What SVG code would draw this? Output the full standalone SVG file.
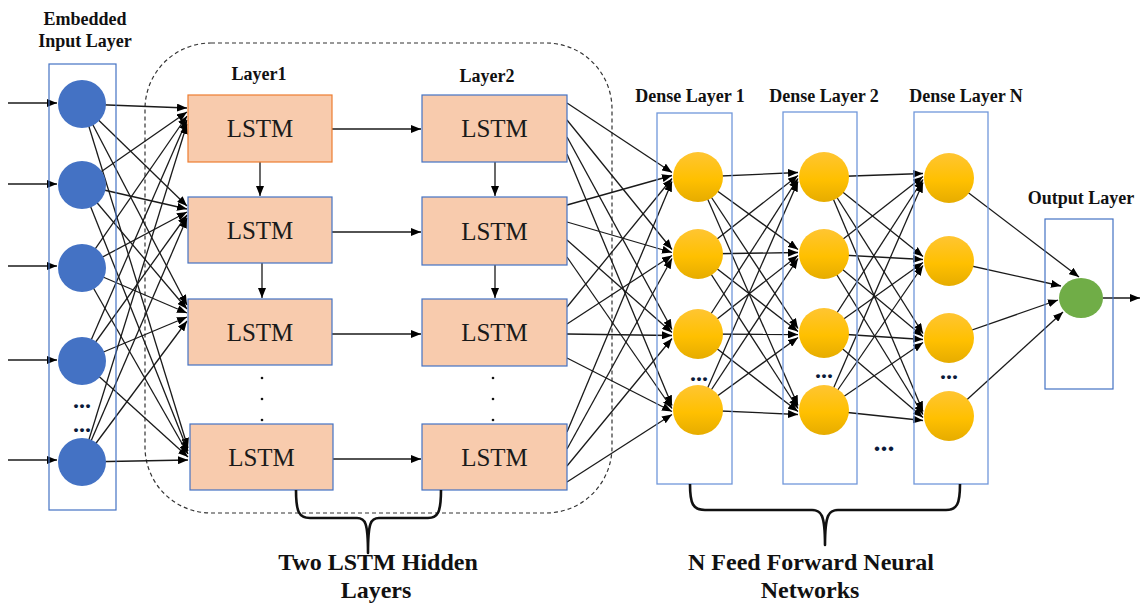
<svg xmlns="http://www.w3.org/2000/svg" width="1141" height="603" viewBox="0 0 1141 603">
<style>
.lbl{font-family:"Liberation Serif","Times New Roman",serif;font-weight:bold;font-size:18px;fill:#111;text-anchor:middle}
.big{font-family:"Liberation Serif","Times New Roman",serif;font-weight:bold;font-size:24px;fill:#111;text-anchor:middle}
.lstmt{font-family:"Liberation Serif","Times New Roman",serif;font-size:25px;fill:#1a1a1a;text-anchor:middle}
.dots{font-family:"Liberation Serif","Times New Roman",serif;font-weight:bold;font-size:24px;fill:#0b1a3a;text-anchor:middle}
.box{fill:#F8CBAD;stroke:#4472C4;stroke-width:1.2}
.lay{fill:none;stroke:#4472C4;stroke-width:1.2}
.dlay{fill:none;stroke:#7097DA;stroke-width:1.3}
.inp{fill:#4472C4}
.yel{fill:url(#yg)}
.c line{stroke:#1a1a1a;stroke-width:1.3;marker-end:url(#ah)}
.brace{fill:none;stroke:#111;stroke-width:2.6;stroke-linejoin:round}
</style>
<defs>
<marker id="ah" markerUnits="userSpaceOnUse" viewBox="0 0 10 8" markerWidth="10" markerHeight="8" refX="10" refY="4" orient="auto"><path d="M0,0 L10,4 L0,8 z" fill="#000"/></marker>
<linearGradient id="yg" x1="0" y1="0" x2="0" y2="1"><stop offset="0" stop-color="#FFC532"/><stop offset="0.55" stop-color="#FFC000"/><stop offset="1" stop-color="#E6AC00"/></linearGradient>
</defs>
<rect width="1141" height="603" fill="#fff"/>
<rect x="145" y="43" width="467" height="470" rx="66" ry="66" fill="none" stroke="#333" stroke-width="1.2" stroke-dasharray="4,3"/>
<g id="connectors" class="c">
<line x1="8" y1="103" x2="57" y2="103"/>
<line x1="8" y1="184" x2="57" y2="184"/>
<line x1="8" y1="266" x2="57" y2="266"/>
<line x1="8" y1="360" x2="57" y2="360"/>
<line x1="8" y1="460" x2="57" y2="460"/>
<line x1="82" y1="104" x2="187" y2="108"/>
<line x1="82" y1="185" x2="187" y2="112"/>
<line x1="82" y1="268" x2="187" y2="116"/>
<line x1="82" y1="361" x2="187" y2="120"/>
<line x1="82" y1="462" x2="187" y2="124"/>
<line x1="82" y1="104" x2="187" y2="206"/>
<line x1="82" y1="185" x2="187" y2="209"/>
<line x1="82" y1="268" x2="187" y2="212"/>
<line x1="82" y1="361" x2="187" y2="215"/>
<line x1="82" y1="462" x2="187" y2="218"/>
<line x1="82" y1="104" x2="187" y2="305"/>
<line x1="82" y1="185" x2="187" y2="309"/>
<line x1="82" y1="268" x2="187" y2="313"/>
<line x1="82" y1="361" x2="187" y2="317"/>
<line x1="82" y1="462" x2="187" y2="321"/>
<line x1="82" y1="104" x2="188" y2="448"/>
<line x1="82" y1="185" x2="188" y2="451"/>
<line x1="82" y1="268" x2="188" y2="454"/>
<line x1="82" y1="361" x2="188" y2="457"/>
<line x1="82" y1="462" x2="188" y2="460"/>
<line x1="332" y1="129" x2="421" y2="129"/>
<line x1="332" y1="232" x2="421" y2="232"/>
<line x1="332" y1="334" x2="421" y2="334"/>
<line x1="333" y1="459" x2="421" y2="459"/>
<line x1="260" y1="162" x2="260" y2="196"/>
<line x1="262" y1="263" x2="262" y2="298"/>
<line x1="495" y1="162" x2="495" y2="196"/>
<line x1="495" y1="265" x2="495" y2="298"/>
<line x1="567" y1="103" x2="672" y2="172.5"/>
<line x1="567" y1="120" x2="672" y2="249.5"/>
<line x1="567" y1="137" x2="672" y2="329.5"/>
<line x1="567" y1="154" x2="672" y2="405.5"/>
<line x1="567" y1="205" x2="672" y2="175.5"/>
<line x1="567" y1="222" x2="672" y2="252.5"/>
<line x1="567" y1="240" x2="672" y2="332.5"/>
<line x1="567" y1="257" x2="672" y2="408.5"/>
<line x1="567" y1="307" x2="672" y2="178.5"/>
<line x1="567" y1="324" x2="672" y2="255.5"/>
<line x1="567" y1="334" x2="672" y2="335.5"/>
<line x1="567" y1="358" x2="672" y2="411.5"/>
<line x1="567" y1="432" x2="672" y2="181.5"/>
<line x1="567" y1="449" x2="672" y2="258.5"/>
<line x1="567" y1="466" x2="672" y2="338.5"/>
<line x1="567" y1="482" x2="672" y2="414.5"/>
<line x1="698" y1="177" x2="798" y2="172.5"/>
<line x1="698" y1="177" x2="798" y2="249.5"/>
<line x1="698" y1="177" x2="798" y2="328.5"/>
<line x1="698" y1="177" x2="798" y2="405.5"/>
<line x1="698" y1="254" x2="798" y2="175.5"/>
<line x1="698" y1="254" x2="798" y2="252.5"/>
<line x1="698" y1="254" x2="798" y2="331.5"/>
<line x1="698" y1="254" x2="798" y2="408.5"/>
<line x1="698" y1="334" x2="798" y2="178.5"/>
<line x1="698" y1="334" x2="798" y2="255.5"/>
<line x1="698" y1="334" x2="798" y2="334.5"/>
<line x1="698" y1="334" x2="798" y2="411.5"/>
<line x1="698" y1="410" x2="798" y2="181.5"/>
<line x1="698" y1="410" x2="798" y2="258.5"/>
<line x1="698" y1="410" x2="798" y2="337.5"/>
<line x1="698" y1="410" x2="798" y2="414.5"/>
<line x1="824" y1="177" x2="923" y2="173.5"/>
<line x1="824" y1="177" x2="923" y2="256.5"/>
<line x1="824" y1="177" x2="923" y2="333.5"/>
<line x1="824" y1="177" x2="923" y2="411.5"/>
<line x1="824" y1="254" x2="923" y2="176.5"/>
<line x1="824" y1="254" x2="923" y2="259.5"/>
<line x1="824" y1="254" x2="923" y2="336.5"/>
<line x1="824" y1="254" x2="923" y2="414.5"/>
<line x1="824" y1="333" x2="923" y2="179.5"/>
<line x1="824" y1="333" x2="923" y2="262.5"/>
<line x1="824" y1="333" x2="923" y2="339.5"/>
<line x1="824" y1="333" x2="923" y2="417.5"/>
<line x1="824" y1="410" x2="923" y2="182.5"/>
<line x1="824" y1="410" x2="923" y2="265.5"/>
<line x1="824" y1="410" x2="923" y2="342.5"/>
<line x1="824" y1="410" x2="923" y2="420.5"/>
<line x1="949" y1="178" x2="1079" y2="277"/>
<line x1="949" y1="261" x2="1061" y2="286"/>
<line x1="949" y1="338" x2="1058" y2="300"/>
<line x1="949" y1="416" x2="1063" y2="312"/>
<line x1="1103" y1="298" x2="1140" y2="298"/>
</g>
<g id="input-layer">
<text class="lbl" x="85" y="25">Embedded</text>
<text class="lbl" x="85" y="47">Input Layer</text>
<rect class="lay" x="49" y="64" width="67" height="446"/>
<circle class="inp" cx="82" cy="104" r="24"/>
<circle class="inp" cx="82" cy="185" r="24"/>
<circle class="inp" cx="82" cy="268" r="24"/>
<circle class="inp" cx="82" cy="361" r="24"/>
<circle class="inp" cx="82" cy="462" r="24"/>
<text class="dots" x="82" y="408">...</text>
<text class="dots" x="82" y="432">...</text>
</g>
<g id="lstm-layer1">
<text class="lbl" x="259" y="80">Layer1</text>
<rect class="box" x="188" y="95" width="144" height="67" style="stroke:#ED7D31"/>
<text class="lstmt" x="260" y="137">LSTM</text>
<rect class="box" x="188" y="197" width="144" height="66"/>
<text class="lstmt" x="260" y="238.5">LSTM</text>
<rect class="box" x="188" y="299" width="144" height="66"/>
<text class="lstmt" x="260" y="340.5">LSTM</text>
<circle cx="262" cy="378" r="1.3" fill="#111"/>
<circle cx="262" cy="399" r="1.3" fill="#111"/>
<circle cx="262" cy="420" r="1.3" fill="#111"/>
<rect class="box" x="190" y="424" width="143" height="66"/>
<text class="lstmt" x="261.5" y="465.5">LSTM</text>
</g>
<g id="lstm-layer2">
<text class="lbl" x="487" y="82">Layer2</text>
<rect class="box" x="422" y="95" width="145" height="67"/>
<text class="lstmt" x="494.5" y="137">LSTM</text>
<rect class="box" x="422" y="197" width="145" height="68"/>
<text class="lstmt" x="494.5" y="239.5">LSTM</text>
<rect class="box" x="422" y="299" width="145" height="67"/>
<text class="lstmt" x="494.5" y="341">LSTM</text>
<circle cx="493" cy="378" r="1.3" fill="#111"/>
<circle cx="493" cy="399" r="1.3" fill="#111"/>
<circle cx="493" cy="420" r="1.3" fill="#111"/>
<rect class="box" x="422" y="424" width="145" height="66"/>
<text class="lstmt" x="494.5" y="465.5">LSTM</text>
</g>
<g id="dense-layer-1">
<text class="lbl" x="690" y="102">Dense Layer 1</text>
<rect class="dlay" x="657" y="113" width="75" height="371"/>
<circle class="yel" cx="698" cy="177" r="25"/>
<circle class="yel" cx="698" cy="254" r="25"/>
<circle class="yel" cx="698" cy="334" r="25"/>
<circle class="yel" cx="698" cy="410" r="25"/>
<text class="dots" x="699" y="381">...</text>
</g>
<g id="dense-layer-2">
<text class="lbl" x="824" y="102">Dense Layer 2</text>
<rect class="dlay" x="783" y="112" width="74" height="372"/>
<circle class="yel" cx="824" cy="177" r="25"/>
<circle class="yel" cx="824" cy="254" r="25"/>
<circle class="yel" cx="824" cy="333" r="25"/>
<circle class="yel" cx="824" cy="410" r="25"/>
<text class="dots" x="824" y="378">...</text>
</g>
<g id="dense-ellipsis">
<text class="dots" x="884" y="451" style="font-size:28px">...</text>
</g>
<g id="dense-layer-n">
<text class="lbl" x="966" y="102">Dense Layer N</text>
<rect class="dlay" x="914" y="112" width="74" height="372"/>
<circle class="yel" cx="949" cy="178" r="25"/>
<circle class="yel" cx="949" cy="261" r="25"/>
<circle class="yel" cx="949" cy="338" r="25"/>
<circle class="yel" cx="949" cy="416" r="25"/>
<text class="dots" x="949" y="379">...</text>
</g>
<g id="output-layer">
<text class="lbl" x="1081" y="204">Output Layer</text>
<rect class="lay" x="1045" y="219" width="68" height="170"/>
<ellipse cx="1081" cy="298" rx="22" ry="20" fill="#70AD47"/>
</g>
<g id="brace-lstm">
<path class="brace" d="M296,490 C296,512 299,518 310,518 L357,518 C365,518 368,522 368,553 C368,522 371,518 379,518 L428,518 C438,518 441,512 441,490"/>
<text class="big" x="378" y="570">Two LSTM Hidden</text>
<text class="big" x="376" y="598">Layers</text>
</g>
<g id="brace-dense">
<path class="brace" d="M690,484 C690,504 693,510 705,510 L812,510 C821,510 825,514 825,545 C825,514 829,510 838,510 L946,510 C957,510 960,504 960,484"/>
<text class="big" x="811" y="570">N Feed Forward Neural</text>
<text class="big" x="810" y="598">Networks</text>
</g>
</svg>
